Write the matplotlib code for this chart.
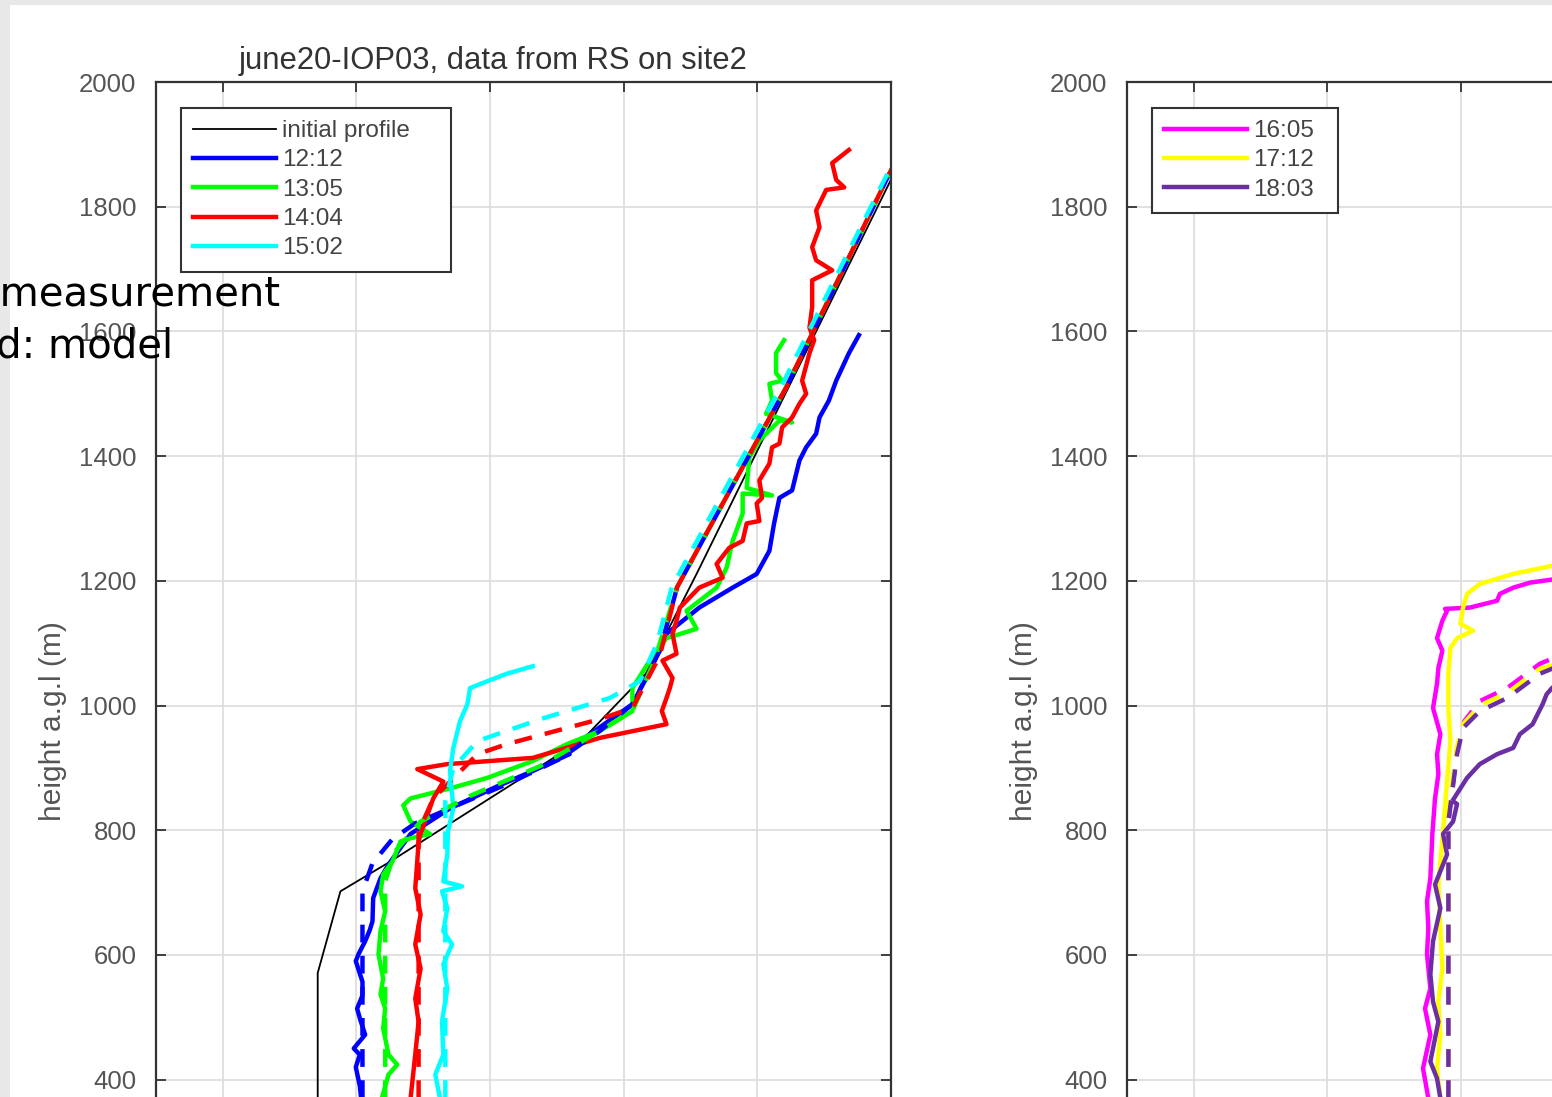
import matplotlib
matplotlib.use("Agg")
import matplotlib.pyplot as plt
from matplotlib.patches import Rectangle

plt.rcParams['font.family'] = ['Liberation Sans', 'DejaVu Sans']

# radiosonde profiles, site2, IOP03 (potential temperature in K vs height in m)
theta_init = [301.42, 301.42, 301.76, 302.51, 305.39, 306.33, 307.09, 310.72]
z_init = [0, 571, 702, 750, 946, 1051, 1211, 2000]

theta_1212 = [302.08, 302.05, 301.99, 302.05, 301.96, 302.13, 302.06, 302.01, 302.09, 302.09,
              301.99, 302.03, 302.13, 302.20, 302.24, 302.25, 302.36, 302.48, 302.81, 303.40,
              304.10, 304.64, 305.19, 305.08, 305.39, 306.13, 306.39, 306.64, 307.13, 307.63,
              307.99, 308.18, 308.25, 308.33, 308.52, 308.63, 308.73, 308.88, 308.93, 309.07,
              309.18, 309.37, 309.52]
z_1212 = [360, 390, 420, 440, 450, 472, 495, 514, 535, 557,
          590, 601, 622, 640, 654, 691, 723, 745, 794, 835,
          870, 895, 922, 930, 946, 1002, 1055, 1115, 1157, 1189,
          1211, 1248, 1292, 1333, 1345, 1393, 1414, 1436, 1462, 1489,
          1521, 1565, 1594]

theta_1305 = [302.38, 302.48, 302.61, 302.48, 302.40, 302.43, 302.36, 302.40, 302.33, 302.36,
              302.43, 302.36, 302.40, 302.54, 302.66, 302.81, 303.10, 302.81, 302.70, 302.81,
              303.40, 303.96, 304.64, 305.15, 305.64, 306.13, 306.13, 306.39, 306.64, 307.09,
              306.94, 307.39, 307.54, 307.63, 307.78, 307.78, 308.22, 307.84, 307.88, 308.03,
              308.33, 308.52, 308.13, 308.22, 308.18, 308.37, 308.28, 308.28, 308.37, 308.40]
z_1305 = [370, 408, 424, 440, 482, 514, 537, 562, 601, 638,
          670, 702, 729, 750, 782, 787, 794, 814, 840, 851,
          867, 884, 911, 938, 959, 991, 1028, 1072, 1108, 1123,
          1152, 1189, 1221, 1264, 1308, 1340, 1337, 1349, 1398, 1425,
          1457, 1454, 1468, 1489, 1516, 1521, 1533, 1565, 1581, 1586]

theta_1404 = [302.81, 302.88, 302.93, 302.88, 302.96, 302.88, 302.96, 302.88, 302.91, 302.93,
              302.96, 303.15, 303.30, 302.91, 303.36, 304.64, 305.64, 306.64, 306.57, 306.64,
              306.69, 306.73, 306.58, 306.79, 306.73, 306.79, 306.84, 307.13, 307.48, 307.39,
              307.58, 307.78, 307.84, 308.03, 307.99, 308.07, 308.03, 308.18, 308.22, 308.33,
              308.37, 308.52, 308.63, 308.73, 308.67, 308.78, 308.85, 308.78, 308.82, 308.82,
              309.12, 308.88, 308.82, 308.93, 308.88, 309.03, 309.30, 309.18, 309.12, 309.37]
z_1404 = [370, 440, 493, 530, 578, 617, 665, 707, 750, 782,
          794, 851, 878, 898, 906, 916, 948, 970, 991, 1012,
          1028, 1044, 1072, 1083, 1115, 1136, 1157, 1189, 1205, 1227,
          1253, 1264, 1292, 1296, 1324, 1333, 1361, 1388, 1414, 1420,
          1446, 1462, 1484, 1500, 1521, 1565, 1586, 1606, 1639, 1682,
          1698, 1714, 1735, 1767, 1794, 1827, 1831, 1843, 1870, 1891]

theta_1502 = [303.25, 303.18, 303.30, 303.28, 303.36, 303.30, 303.43, 303.30, 303.36, 303.28,
              303.58, 303.30, 303.36, 303.37, 303.45, 303.40, 303.45, 303.55, 303.66, 303.70,
              303.96, 304.25, 304.64]
z_1502 = [370, 408, 440, 493, 546, 585, 617, 638, 675, 702,
          710, 718, 761, 798, 835, 895, 932, 975, 1002, 1028,
          1039, 1051, 1063]

theta_1605 = [303.51, 303.43, 303.54, 303.46, 303.54, 303.49, 303.51, 303.49, 303.54, 303.57,
              303.61, 303.66, 303.64, 303.69, 303.58, 303.64, 303.66, 303.72, 303.64, 303.72,
              303.79, 303.76, 304.13, 304.54, 304.58, 304.78, 305.03, 305.36, 305.50]
z_1605 = [370, 418, 472, 514, 546, 601, 643, 686, 723, 794,
          851, 890, 922, 954, 996, 1035, 1060, 1088, 1108, 1136,
          1152, 1155, 1157, 1168, 1179, 1189, 1197, 1202, 1204]

theta_1712 = [303.69, 303.64, 303.69, 303.66, 303.72, 303.69, 303.66, 303.69, 303.73, 303.79,
              303.84, 303.81, 303.81, 303.84, 303.94, 304.18, 303.99, 304.03, 304.09, 304.28,
              304.78, 305.36, 305.50]
z_1712 = [370, 418, 472, 525, 578, 643, 713, 750, 798, 879,
          943, 996, 1051, 1092, 1108, 1120, 1131, 1157, 1179, 1195,
          1211, 1224, 1226]

theta_1803 = [303.69, 303.64, 303.54, 303.66, 303.58, 303.54, 303.58, 303.69, 303.61, 303.79,
              303.73, 303.88, 303.94, 303.87, 304.09, 304.28, 304.54, 304.78, 304.88, 305.07,
              305.22, 305.28, 305.36, 305.45]
z_1803 = [370, 402, 429, 493, 525, 569, 622, 675, 713, 761,
          794, 814, 842, 847, 884, 906, 922, 932, 954, 970,
          1002, 1018, 1028, 1035]

# model profiles (dashed)
mod_theta_1212 = [302.09, 302.09, 302.24, 302.54, 302.88, 303.55, 304.30, 305.04, 305.64, 306.13,
                  306.54, 306.80, 308.43, 309.93, 310.66]
mod_z_1212 = [0, 702, 747, 786, 811, 842, 876, 914, 959, 1002, 1088, 1190, 1510, 1843, 2000]
mod_theta_1305 = [302.43, 302.43, 302.58, 302.96, 303.70, 304.75, 305.64, 306.13, 306.46, 306.80,
                  308.43, 309.93, 310.66]
mod_z_1305 = [0, 718, 766, 814, 855, 903, 959, 991, 1072, 1190, 1510, 1843, 2000]
mod_theta_1404 = [302.93, 302.93, 303.15, 303.81, 304.25, 304.70, 305.15, 305.64, 306.13, 306.54,
                  306.80, 308.43, 309.93, 310.66]
mod_z_1404 = [0, 798, 851, 922, 938, 951, 964, 978, 996, 1080, 1190, 1510, 1843, 2000]
mod_theta_1502 = [303.33, 303.33, 303.45, 303.81, 304.75, 305.79, 306.24, 306.50, 306.72, 308.35,
                  309.90, 310.66]
mod_z_1502 = [0, 847, 900, 943, 978, 1012, 1039, 1100, 1190, 1510, 1843, 2000]

mod_theta_1605 = [303.81, 303.81, 303.94, 304.05, 304.28, 304.69, 305.18, 305.36, 305.50]
mod_z_1605 = [0, 814, 930, 975, 1007, 1028, 1067, 1075, 1080]
mod_theta_1712 = [303.81, 303.81, 303.94, 304.03, 304.28, 304.69, 305.18, 305.50]
mod_z_1712 = [0, 830, 935, 970, 1000, 1020, 1059, 1068]
mod_theta_1803 = [303.81, 303.81, 303.94, 304.03, 304.28, 304.69, 305.18, 305.36, 305.50]
mod_z_1803 = [0, 814, 922, 964, 991, 1012, 1051, 1059, 1065]

labels_left = ['initial profile', '12:12', '13:05', '14:04', '15:02']
labels_right = ['16:05', '17:12', '18:03']
purple = '#6a2fa5'

W, H = 1552, 1097
fig = plt.figure(figsize=(W / 100, H / 100), dpi=100)
fig.patch.set_facecolor('white')
fig.add_artist(Rectangle((0, 0), 10 / W, 1, transform=fig.transFigure,
                         facecolor='#e8e8e8', edgecolor='none', zorder=-5))
fig.add_artist(Rectangle((0, 1 - 5 / H), 1, 5 / H, transform=fig.transFigure,
                         facecolor='#e8e8e8', edgecolor='none', zorder=-5))

AX_W, AX_H = 735, 1247  # axes size in pixels
ax_bottom = (H - 1329) / H
ax1 = fig.add_axes([156 / W, ax_bottom, AX_W / W, AX_H / H])
ax2 = fig.add_axes([1127 / W, ax_bottom, AX_W / W, AX_H / H])


def style(ax):
    ax.set_xlim(299, 310)
    ax.set_ylim(0, 2000)
    ax.set_xticks(range(300, 311, 2))
    ax.set_yticks(range(0, 2001, 200))
    ax.grid(True, color='#dcdcdc', lw=1.2)
    ax.set_axisbelow(True)
    ax.tick_params(direction='in', top=True, right=True, length=7, width=1.3,
                   color='#333333', labelsize=18.5, labelcolor='#555555', pad=14)
    for s in ax.spines.values():
        s.set_color('#333333')
        s.set_linewidth(1.6)
    ax.set_ylabel('height a.g.l (m)', fontsize=21.5, color='#555555')
    ax.yaxis.set_label_coords(-0.121, 0.4876)


lw = 3.2
dash = (0, (4, 3))

for ax in (ax1, ax2):
    style(ax)

# left panel
h0, = ax1.plot(theta_init, z_init, color='black', lw=1.3)
h1, = ax1.plot(theta_1212, z_1212, color='blue', lw=lw)
h2, = ax1.plot(theta_1305, z_1305, color='#00ff00', lw=lw)
h3, = ax1.plot(theta_1404, z_1404, color='red', lw=lw)
h4, = ax1.plot(theta_1502, z_1502, color='cyan', lw=lw)
ax1.plot(mod_theta_1212, mod_z_1212, color='blue', lw=lw, ls=dash)
ax1.plot(mod_theta_1305, mod_z_1305, color='#00ff00', lw=lw, ls=dash)
ax1.plot(mod_theta_1404, mod_z_1404, color='red', lw=lw, ls=dash)
ax1.plot(mod_theta_1502, mod_z_1502, color='cyan', lw=lw, ls=dash)

# right panel
g1, = ax2.plot(theta_1605, z_1605, color='magenta', lw=lw)
g2, = ax2.plot(theta_1712, z_1712, color='yellow', lw=lw)
g3, = ax2.plot(theta_1803, z_1803, color=purple, lw=lw)
ax2.plot(mod_theta_1605, mod_z_1605, color='magenta', lw=lw, ls=dash)
ax2.plot(mod_theta_1712, mod_z_1712, color='yellow', lw=lw, ls=dash)
ax2.plot(mod_theta_1803, mod_z_1803, color=purple, lw=lw, ls=dash)

leg_kw = dict(loc='upper left', mode='expand', borderaxespad=0,
              frameon=True, fancybox=False, edgecolor='#333333', framealpha=1,
              fontsize=17.5, handlelength=3.4, handletextpad=0.25, labelspacing=0.3,
              borderpad=0.5)
for ax, hs, labs, box_w, box_h in ((ax1, [h0, h1, h2, h3, h4], labels_left, 270, 160),
                                   (ax2, [g1, g2, g3], labels_right, 186, 102)):
    top = 1 - 26 / AX_H
    leg = ax.legend(hs, labs, bbox_to_anchor=(25 / AX_W, top - box_h / AX_H,
                                              box_w / AX_W, box_h / AX_H), **leg_kw)
    leg.get_frame().set_linewidth(1.5)
    for t in leg.get_texts():
        t.set_color('#444444')

ax1.text(0.4585, 1.0168, 'june20-IOP03, data from RS on site2', transform=ax1.transAxes,
         ha='center', va='center', fontsize=22.3, color='#333333')

# slide annotation over the left panel
fig.text(280 / W, 1 - 305 / H, 'solid: measurement', ha='right', va='baseline',
         fontsize=29, family='DejaVu Sans', color='black')
fig.text(173 / W, 1 - 357 / H, 'dashed: model', ha='right', va='baseline',
         fontsize=29, family='DejaVu Sans', color='black')

fig.savefig('out.png', dpi=100)
